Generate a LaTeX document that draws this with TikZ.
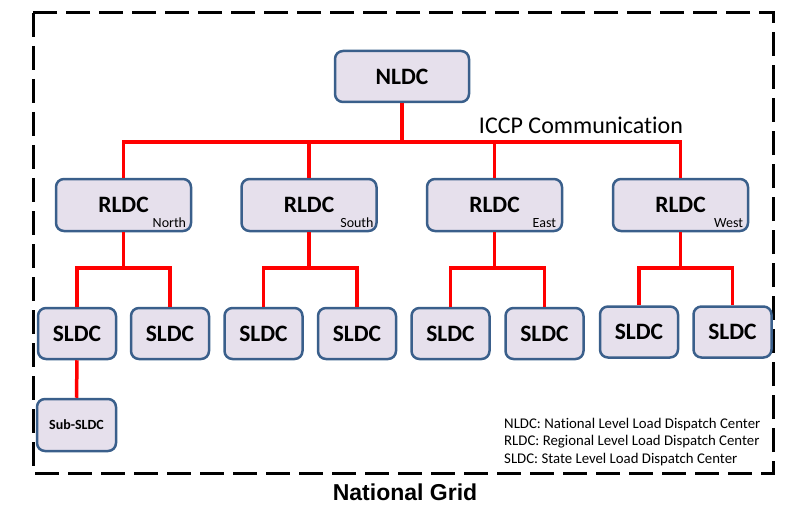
\documentclass[tikz,border=0pt]{standalone}
\usepackage{fontspec}
\setmainfont[Ligatures=NoCommon]{Carlito}
\newfontfamily\titlefont{Liberation Sans}
\usepackage{xcolor}
\usepackage{tikz}
\usetikzlibrary{positioning, calc}
\definecolor{boxfill}{HTML}{E6E0EC}
\definecolor{boxline}{HTML}{3A5F8B}
\definecolor{busred}{HTML}{FF0000}

\begin{document}
\begin{tikzpicture}[
    x=1pt, y=-1pt,
    % Office-like rounded boxes
    centerbox/.style={
        rectangle,
        draw=boxline,
        fill=boxfill,
        line width=2.5pt,
        rounded corners=8pt,
        inner sep=0pt,
        align=center,
        font=\bfseries\fontsize{23.5pt}{28pt}\selectfont
    },
    nldcbox/.style={centerbox, minimum width=134pt, minimum height=51pt},
    rldcbox/.style={centerbox, minimum width=135pt, minimum height=52pt},
    sldcbox/.style={centerbox, minimum width=78pt, minimum height=51pt},
    subbox/.style={centerbox, minimum width=79pt, minimum height=52pt,
        font=\bfseries\fontsize{14pt}{17pt}\selectfont},
    regiontag/.style={inner sep=0pt, anchor=base east,
        font=\fontsize{14pt}{17pt}\selectfont},
    link/.style={draw=busred, line width=3.5pt}
]
    \useasboundingbox (0,0) rectangle (810,513);

    % Frame
    \draw[black, line width=3pt, dash pattern=on 24pt off 9pt] (33,13) rectangle (773,473);

    % Nodes
    \node[nldcbox] (nldc) at (402,76.5) {NLDC};

    \node[rldcbox] (rN) at (123.5,205) {RLDC};
    \node[rldcbox, right=48pt of rN] (rS) {RLDC};
    \node[rldcbox, right=48pt of rS] (rE) {RLDC};
    \node[rldcbox, right=48.5pt of rE] (rW) {RLDC};

    \node[regiontag] (tagN) at ($(rN.south east)+(-6,-4.5)$) {North};
    \node[regiontag] (tagS) at ($(rS.south east)+(-4,-4.5)$) {South};
    \node[regiontag] (tagE) at ($(rE.south east)+(-7,-4.5)$) {East};
    \node[regiontag] (tagW) at ($(rW.south east)+(-6,-4.5)$) {West};

    \node[sldcbox] (s1) at (77,333.5) {SLDC};
    \node[sldcbox, right=12.5pt of s1] (s2) {SLDC};
    \node[sldcbox, right=13pt of s2] (s3) {SLDC};
    \node[sldcbox, right=13pt of s3] (s4) {SLDC};
    \node[sldcbox, right=13pt of s4] (s5) {SLDC};
    \node[sldcbox, right=13.5pt of s5] (s6) {SLDC};
    \node[sldcbox, right=14pt of s6, yshift=1.5pt] (s7) {SLDC};
    \node[sldcbox, right=13pt of s7] (s8) {SLDC};

    \node[subbox] (sub) at (76.5,425) {Sub-SLDC};

    \node[inner sep=0pt, anchor=base, font=\fontsize{24pt}{29pt}\selectfont] (iccp) at (581,134) {ICCP Communication};

    \node[inner sep=0pt, anchor=north west, align=left,
        font=\fontsize{14.8pt}{17.5pt}\selectfont] (legend) at (504,418)
        {NLDC: National Level Load Dispatch Center\\
         RLDC: Regional Level Load Dispatch Center\\
         SLDC: State Level Load Dispatch Center};

    \node[inner sep=0pt, anchor=base, font=\titlefont\bfseries\fontsize{23pt}{28pt}\selectfont] (title) at (405,500) {National Grid};

    % Buses
    \coordinate (topbus) at (402,142);
    \coordinate (lowbus) at (0,268);

    % Edges
    \draw[link] (nldc.south) -- (topbus);
    \draw[link] (rN.north) |- (topbus) -| (rW.north);
    \draw[link] (rS.north) -- (rS.north |- topbus);
    \draw[link] (rE.north) -- (rE.north |- topbus);

    \draw[link] (rN.south) -- (rN.south |- lowbus);
    \draw[link] (s1.north) |- (rN.south |- lowbus) -| (s2.north);
    \draw[link] (rS.south) -- (rS.south |- lowbus);
    \draw[link] (s3.north) |- (rS.south |- lowbus) -| (s4.north);
    \draw[link] (rE.south) -- (rE.south |- lowbus);
    \draw[link] (s5.north) |- (rE.south |- lowbus) -| (s6.north);
    \draw[link] (rW.south) -- (rW.south |- lowbus);
    \draw[link] (s7.north) |- (rW.south |- lowbus) -| (s8.north);

    \draw[link] (s1.south) -- (sub.north);

\end{tikzpicture}
\end{document}
